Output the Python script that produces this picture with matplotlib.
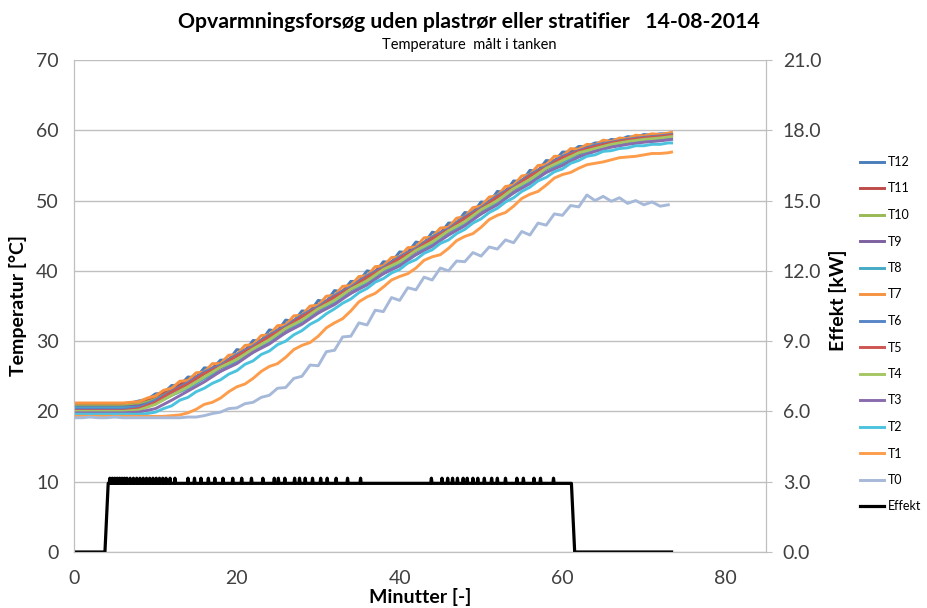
import matplotlib
matplotlib.use('Agg')
import matplotlib.pyplot as plt
from matplotlib.ticker import FormatStrFormatter, MultipleLocator

plt.rcParams['font.family'] = ['Lato', 'DejaVu Sans']

# time stamps (minutes): every 2 min for the middle sensors, every minute for the rest
t2_min = list(range(0, 74, 2)) + [73.4]
t1_min = list(range(0, 74)) + [73.4]
t0_min = list(range(0, 74))

T12 = [21.1, 21.1, 21.1, 21.1, 21.1, 21.1, 21.1, 21.2, 21.5, 21.7,
       22.5, 22.6, 23.7, 23.7, 24.9, 24.8, 26.2, 26.1, 27.3, 27.3,
       28.8, 28.6, 30.1, 30.0, 31.6, 31.4, 33.0, 32.8, 34.3, 34.2,
       35.8, 35.6, 37.2, 37.0, 38.5, 38.5, 40.0, 39.8, 41.3, 41.2,
       42.7, 42.6, 44.1, 43.9, 45.5, 45.3, 46.8, 46.8, 48.3, 48.2,
       49.8, 49.7, 51.3, 51.2, 52.8, 52.7, 54.3, 54.2, 55.7, 55.6,
       56.9, 56.9, 57.7, 57.7, 58.2, 58.2, 58.7, 58.6, 59.1, 59.0,
       59.4, 59.3, 59.5, 59.5, 59.6]
T11 = [20.9, 20.9, 20.9, 20.9, 21.1, 22.1, 23.0, 24.5, 25.4, 26.9, 27.9, 29.6, 30.7, 32.4, 33.5, 35.2, 36.3, 38.0, 39.1,
       40.8, 41.8, 43.5, 44.6, 46.3, 47.5, 49.3, 50.5, 52.3, 53.5, 55.2, 56.2, 57.3, 57.9, 58.4, 58.8, 59.1, 59.3, 59.5]
T10 = [20.8, 20.8, 20.8, 20.8, 21.0, 21.7, 22.9, 24.0, 25.3, 26.5, 27.9, 29.1, 30.6, 32.0, 33.5, 34.8, 36.3, 37.6, 39.0,
       40.4, 41.8, 43.1, 44.6, 45.9, 47.5, 48.9, 50.5, 51.9, 53.5, 54.8, 56.1, 57.0, 57.7, 58.2, 58.6, 58.9, 59.1, 59.3]
T9 = [20.6, 20.6, 20.6, 20.6, 20.8, 21.4, 22.4, 23.8, 24.8, 26.2, 27.3, 28.9, 30.1, 31.7, 32.9, 34.5, 35.7, 37.3, 38.5,
      40.1, 41.2, 42.8, 44.0, 45.6, 46.9, 48.6, 49.9, 51.6, 52.9, 54.5, 55.6, 56.6, 57.3, 57.9, 58.3, 58.6, 58.8, 59.0]
T8 = [20.5, 20.5, 20.5, 20.5, 20.6, 21.1, 22.3, 23.3, 24.7, 25.7, 27.2, 28.4, 30.0, 31.2, 32.8, 34.0, 35.6, 36.8, 38.4,
      39.6, 41.1, 42.3, 43.9, 45.1, 46.8, 48.1, 49.8, 51.1, 52.8, 54.0, 55.4, 56.3, 57.1, 57.7, 58.1, 58.4, 58.6, 58.8]
T7 = [21.2, 21.2, 21.2, 21.2, 21.2, 21.2, 21.2, 21.3, 21.4, 21.9,
      22.2, 23.0, 23.3, 24.3, 24.4, 25.5, 25.6, 26.8, 26.8, 28.0,
      28.1, 29.4, 29.5, 30.8, 30.9, 32.2, 32.3, 33.6, 33.7, 35.0,
      35.1, 36.4, 36.5, 37.8, 37.9, 39.2, 39.3, 40.6, 40.7, 41.9,
      42.0, 43.3, 43.4, 44.7, 44.8, 46.1, 46.2, 47.5, 47.7, 49.0,
      49.2, 50.5, 50.7, 52.0, 52.2, 53.5, 53.7, 55.0, 55.1, 56.3,
      56.3, 57.4, 57.3, 58.0, 57.9, 58.6, 58.4, 58.9, 58.8, 59.3,
      59.2, 59.5, 59.4, 59.6, 59.7]
T6 = [20.3, 20.3, 20.3, 20.3, 20.6, 21.6, 22.9, 24.1, 25.6, 26.6, 28.1, 29.3, 30.9, 32.1, 33.7, 34.9, 36.5, 37.7, 39.3,
      40.5, 42.0, 43.2, 44.8, 46.0, 47.7, 49.0, 50.7, 52.0, 53.7, 54.9, 56.3, 57.1, 57.9, 58.3, 58.7, 59.0, 59.2, 59.4]
T5 = [20.1, 20.1, 20.1, 20.1, 20.4, 21.3, 22.8, 23.9, 25.4, 26.4, 27.9, 29.1, 30.7, 31.9, 33.5, 34.7, 36.3, 37.5, 39.1,
      40.3, 41.8, 43.0, 44.6, 45.8, 47.5, 48.8, 50.5, 51.8, 53.5, 54.7, 56.1, 57.0, 57.7, 58.2, 58.6, 58.9, 59.1, 59.3]
T4 = [20.0, 20.0, 20.0, 20.0, 20.2, 21.0, 22.3, 23.5, 24.9, 26.3, 27.4, 28.9, 30.2, 31.8, 33.0, 34.6, 35.8, 37.4, 38.6,
      40.2, 41.3, 42.9, 44.1, 45.7, 47.0, 48.7, 50.0, 51.7, 53.0, 54.6, 55.7, 56.8, 57.4, 58.0, 58.4, 58.7, 58.9, 59.1]
T3 = [19.8, 19.8, 19.8, 19.8, 19.9, 20.4, 21.6, 22.9, 24.2, 25.7, 26.8, 28.4, 29.6, 31.2, 32.4, 34.0, 35.2, 36.8, 38.0,
      39.6, 40.7, 42.3, 43.5, 45.1, 46.4, 48.1, 49.4, 51.1, 52.4, 54.0, 55.0, 56.2, 57.0, 57.6, 58.0, 58.3, 58.5, 58.7]
T2 = [19.6, 19.6, 19.6, 19.6, 19.6, 19.6, 19.6, 19.6, 19.6, 19.7,
      19.9, 20.4, 20.8, 21.6, 22.0, 22.8, 23.3, 24.0, 24.5, 25.3,
      25.8, 26.7, 27.2, 28.1, 28.6, 29.5, 30.0, 30.9, 31.5, 32.4,
      33.0, 33.9, 34.6, 35.4, 36.0, 36.9, 37.5, 38.4, 38.9, 39.7,
      40.2, 41.1, 41.6, 42.5, 43.0, 43.9, 44.4, 45.3, 45.9, 46.8,
      47.4, 48.3, 48.9, 49.8, 50.4, 51.3, 51.9, 52.8, 53.3, 54.1,
      54.5, 55.3, 55.7, 56.3, 56.5, 57.0, 57.1, 57.4, 57.5, 57.8,
      57.8, 58.0, 58.0, 58.2, 58.2]
T1 = [19.3, 19.3, 19.3, 19.3, 19.3, 19.3, 19.3, 19.3, 19.3, 19.3,
      19.3, 19.3, 19.4, 19.5, 19.8, 20.3, 21.0, 21.3, 21.9, 22.8,
      23.5, 23.9, 24.7, 25.7, 26.4, 26.8, 27.7, 28.8, 29.4, 29.8,
      30.7, 31.9, 32.6, 33.2, 34.3, 35.6, 36.3, 36.8, 37.7, 38.7,
      39.2, 39.6, 40.4, 41.5, 42.0, 42.3, 43.2, 44.3, 44.9, 45.3,
      46.2, 47.3, 47.9, 48.3, 49.2, 50.3, 50.9, 51.3, 52.2, 53.2,
      53.7, 54.0, 54.6, 55.1, 55.3, 55.5, 55.8, 56.1, 56.2, 56.3,
      56.5, 56.7, 56.7, 56.8, 56.9]
T0 = [19.1, 19.1, 19.2, 19.1, 19.1, 19.2, 19.1, 19.1, 19.1, 19.1,
      19.1, 19.1, 19.1, 19.1, 19.2, 19.2, 19.4, 19.7, 19.9, 20.4,
      20.5, 21.1, 21.3, 22.0, 22.3, 23.3, 23.4, 24.7, 25.0, 26.6,
      26.5, 28.5, 28.7, 30.6, 30.7, 32.6, 32.3, 34.4, 34.2, 36.2,
      35.8, 37.6, 37.3, 39.1, 38.7, 40.4, 40.0, 41.4, 41.3, 42.6,
      42.1, 43.4, 43.1, 44.4, 44.0, 45.6, 45.1, 46.8, 46.5, 48.1,
      47.9, 49.3, 49.1, 50.8, 50.0, 50.6, 49.9, 50.4, 49.6, 50.0,
      49.4, 49.8, 49.2, 49.4]

# heater power (kW): on/off times, base level and short spikes
effekt_on = (3.8, 4.2)
effekt_off = (61.1, 61.5)
effekt_end = 73.4
effekt_base = 2.93
effekt_peak = 3.15
effekt_spikes = [4.4, 4.7, 5.0, 5.3, 5.6, 5.9, 6.2, 6.5, 6.9, 7.3, 7.7, 8.1, 8.5, 8.9, 9.3, 9.7, 10.1, 10.5,
                 10.9, 11.3, 11.8, 12.4, 14.0, 14.8, 15.6, 16.5, 17.3, 18.3, 19.5, 20.6, 21.8, 23.2, 24.6,
                 25.1, 25.9, 27.1, 27.7, 28.4, 29.3, 30.3, 31.1, 32.2, 33.6, 35.2, 43.9, 45.2, 45.9, 46.5,
                 47.1, 47.8, 48.3, 49.0, 49.6, 50.4, 51.3, 52.0, 53.0, 54.4, 55.2, 56.5, 57.3, 58.9]

series = [
    ('T12', t1_min, T12, '#4A7EBB'),
    ('T11', t2_min, T11, '#BE4B48'),
    ('T10', t2_min, T10, '#98B954'),
    ('T9', t2_min, T9, '#7D60A0'),
    ('T8', t2_min, T8, '#46AAC5'),
    ('T7', t1_min, T7, '#F69240'),
    ('T6', t2_min, T6, '#5785C8'),
    ('T5', t2_min, T5, '#CD5552'),
    ('T4', t2_min, T4, '#A5C663'),
    ('T3', t2_min, T3, '#8A6BAE'),
    ('T2', t1_min, T2, '#4BC3DE'),
    ('T1', t1_min, T1, '#FD9D4C'),
    ('T0', t0_min, T0, '#A7B9D9'),
]

# build the power trace from the on/off times and spikes
eff_t = [0, effekt_on[0], effekt_on[1]]
eff_v = [0, 0, effekt_base]
for s in effekt_spikes:
    eff_t += [s - 0.08, s, s + 0.08]
    eff_v += [effekt_base, effekt_peak, effekt_base]
eff_t += [effekt_off[0], effekt_off[1], effekt_end]
eff_v += [effekt_base, 0, 0]

W, H = 927, 608
fig = plt.figure(figsize=(W / 100, H / 100), dpi=100)
ax = fig.add_axes([74 / W, 1 - 552 / H, (766 - 74) / W, (552 - 60) / H])
ax2 = ax.twinx()

handles = []
for name, t, vals, color in series:
    h, = ax.plot(t, vals, color=color, linewidth=2.1, label=name)
    handles.append(h)
h, = ax2.plot(eff_t, eff_v, color='black', linewidth=2.3, label='Effekt')
handles.append(h)

ax.set_xlim(0, 85)
ax.set_ylim(0, 70)
ax.xaxis.set_major_locator(MultipleLocator(20))
ax.yaxis.set_major_locator(MultipleLocator(10))
ax2.set_ylim(0, 21)
ax2.yaxis.set_major_locator(MultipleLocator(3))
ax2.yaxis.set_major_formatter(FormatStrFormatter('%.1f'))

grid_col = '#BFBFBF'
ax.grid(axis='y', color=grid_col, linewidth=1.0)
ax.set_axisbelow(True)
for a in (ax, ax2):
    a.spines['top'].set_visible(False)
    for sp in ('left', 'right', 'bottom'):
        a.spines[sp].set_color(grid_col)
ax.tick_params(axis='y', length=0, labelsize=14, labelcolor='#404040', pad=11)
ax.tick_params(axis='x', length=0, labelsize=14, labelcolor='#404040', pad=13)
ax2.tick_params(axis='y', length=4, color=grid_col, labelsize=14, labelcolor='#404040', pad=8)

fig.text(0.506, 1 - 22 / H, 'Opvarmningsforsøg uden plastrør eller stratifier   14-08-2014',
         ha='center', va='center', fontsize=15.3, fontweight='bold')
fig.text(0.506, 1 - 45 / H, 'Temperature  målt i tanken', ha='center', va='center', fontsize=10.5)
fig.text(18 / W, 1 - 305 / H, 'Temperatur [°C]', rotation=90, ha='center', va='center',
         fontsize=14, fontweight='bold')
fig.text(838 / W, 1 - 300 / H, 'Effekt [kW]', rotation=90, ha='center', va='center',
         fontsize=14, fontweight='bold')
fig.text(420 / W, 1 - 597 / H, 'Minutter [-]', ha='center', va='center', fontsize=14, fontweight='bold')

fig.legend(handles, [h.get_label() for h in handles], loc='upper left',
           bbox_to_anchor=(860 / W, 1 - 156 / H), frameon=False, fontsize=9,
           handlelength=1.9, handletextpad=0.3, labelspacing=1.16, borderpad=0, borderaxespad=0)

fig.savefig('out.png', dpi=100)
